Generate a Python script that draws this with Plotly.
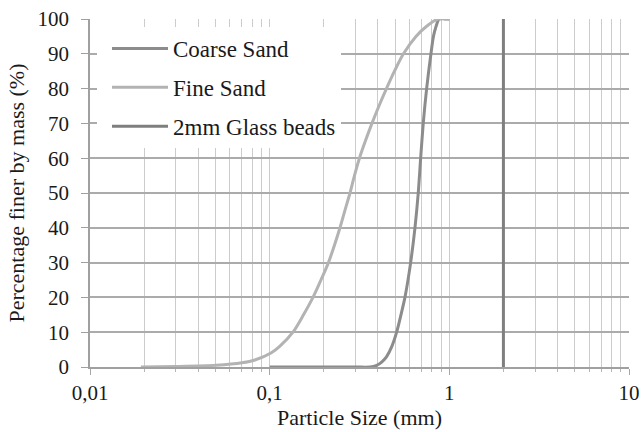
import plotly.graph_objects as go

# Data
coarse_size = [0.1, 0.2, 0.3, 0.3615, 0.394, 0.4216, 0.4478, 0.4793, 0.509, 0.538, 0.5661, 0.609, 0.6437, 0.6714,
               0.6924, 0.7158, 0.7476, 0.79, 0.8157, 0.8391, 0.8787, 0.95, 1.0]
coarse_pct = [0, 0, 0, 0, 0.5, 1.5, 3, 6, 10, 15, 20, 30, 40, 50, 60, 70, 80, 90, 95, 97.5, 100, 100, 100]

fine_size = [0.0192, 0.03, 0.0502, 0.0701, 0.0828, 0.1017, 0.1141, 0.1348, 0.1543, 0.1742, 0.193, 0.2124, 0.2294,
             0.2462, 0.2624, 0.2799, 0.2964, 0.316, 0.3413, 0.371, 0.4057, 0.4467, 0.4949, 0.5554, 0.6519, 0.7505,
             0.8643, 1.0]
fine_pct = [0, 0.15, 0.5, 1.2, 2, 4, 6, 10, 15, 20, 25, 30, 35, 40, 45, 50, 55, 60, 65, 70, 75, 80, 85, 90, 95, 98,
            100, 100]

glass_size = [2, 2]
glass_pct = [0, 100]

x_major = [0.01, 0.1, 1, 10]
x_major_text = ["0,01", "0,1", "1", "10"]
x_minor = [m * d for d in [0.01, 0.1, 1] for m in range(2, 10)]

FONT = "Liberation Serif"
TXT = "#1a1a1a"

fig = go.Figure()
fig.add_trace(go.Scatter(x=coarse_size, y=coarse_pct, mode="lines", name="Coarse Sand",
                         line=dict(color="#8c8c8c", width=3, shape="spline", smoothing=0.8),
                         legendgroup="a"))
fig.add_trace(go.Scatter(x=fine_size, y=fine_pct, mode="lines", name="Fine Sand",
                         line=dict(color="#b3b3b3", width=3, shape="spline", smoothing=0.8),
                         legendgroup="b"))
fig.add_trace(go.Scatter(x=glass_size, y=glass_pct, mode="lines", name="2mm Glass beads",
                         line=dict(color="#7f7f7f", width=3),
                         legendgroup="c"))

fig.update_layout(
    width=642, height=432,
    margin=dict(l=90, r=13, t=19, b=65, autoexpand=False),
    paper_bgcolor="white", plot_bgcolor="white",
    font=dict(family=FONT, size=21, color=TXT),
    showlegend=True,
    legend=dict(x=0.013, y=0.977, xanchor="left", yanchor="top",
                bgcolor="white", borderwidth=0,
                font=dict(family=FONT, size=23, color=TXT),
                tracegroupgap=6, itemwidth=56, indentation=10),
    xaxis=dict(
        type="log", range=[-2, 1], automargin=False,
        tickmode="array", tickvals=x_major, ticktext=x_major_text,
        ticks="outside", ticklen=6, tickcolor="#a6a6a6", tickwidth=1,
        showgrid=True, gridcolor="#cccccc", gridwidth=1.2,
        minor=dict(tickmode="array", tickvals=x_minor, ticks="outside", ticklen=3,
                   tickcolor="#b5b5b5", showgrid=True, gridcolor="#cccccc", gridwidth=1.2),
        showline=True, linecolor="#a0a0a0", linewidth=1.5,
        zeroline=False,
        title=dict(text="Particle Size (mm)", font=dict(family=FONT, size=22, color=TXT), standoff=5),
        tickfont=dict(family=FONT, size=21, color=TXT),
    ),
    yaxis=dict(
        range=[0, 100], dtick=10, tick0=0, automargin=False,
        ticks="outside", ticklen=7, tickcolor="#a0a0a0", tickwidth=1.2,
        showgrid=True, gridcolor="#ababab", gridwidth=1.5,
        showline=True, linecolor="#a0a0a0", linewidth=1.5,
        zeroline=False,
        title=dict(text="Percentage finer by mass (%)", font=dict(family=FONT, size=22, color=TXT), standoff=7),
        tickfont=dict(family=FONT, size=21, color=TXT),
        ticklabelstandoff=8,
    ),
)

fig.write_html("out.html", config={"displayModeBar": False},
               post_script="document.body.style.margin='0';")
